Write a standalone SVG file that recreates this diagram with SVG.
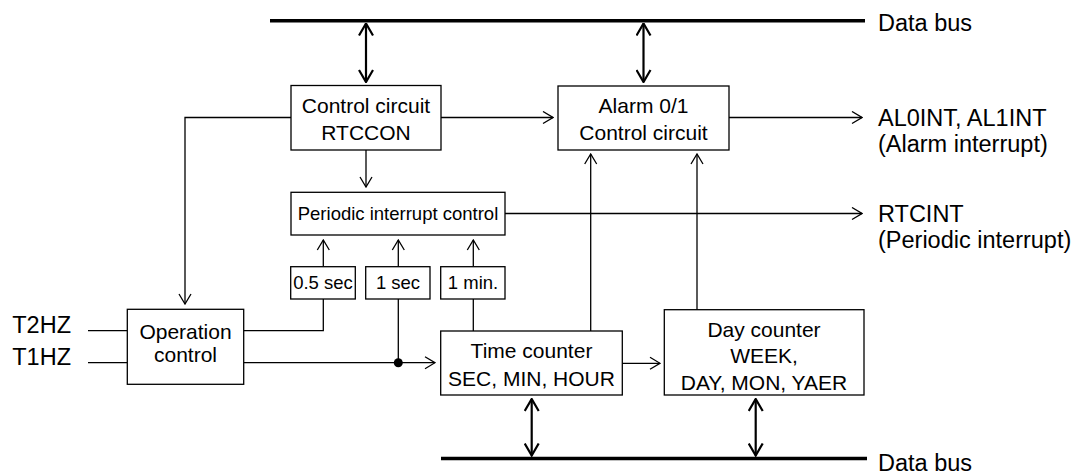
<svg xmlns="http://www.w3.org/2000/svg" width="1077" height="475" viewBox="0 0 1077 475">
<style>
text{font-family:"Liberation Sans",Arial,sans-serif;fill:#000}
.t{font-size:21px}
.o{font-size:23.5px}
.s{font-size:18.5px}
.c{text-anchor:middle}
.box{fill:#fff;stroke:#000;stroke-width:1.3}
.ln{fill:none;stroke:#000;stroke-width:1.3}
.bus{fill:none;stroke:#000;stroke-width:3.6}
.bi{fill:none;stroke:#000;stroke-width:2.2}
</style>
<defs>
<marker id="a" viewBox="0 0 12 14" refX="11" refY="7" markerWidth="12" markerHeight="14" markerUnits="userSpaceOnUse" orient="auto">
<path d="M1,1 L11,7 L1,13" fill="none" stroke="#000" stroke-width="1.3"/>
</marker>
<marker id="b" viewBox="0 0 14 16" refX="13" refY="8" markerWidth="14" markerHeight="16" markerUnits="userSpaceOnUse" orient="auto-start-reverse">
<path d="M1,1 L13,8 L1,15" fill="none" stroke="#000" stroke-width="2.2"/>
</marker>
</defs>

<g id="buses">
<line class="bus" x1="270" y1="20.7" x2="865" y2="20.7"/>
<line class="bus" x1="441" y1="458.5" x2="867" y2="458.5"/>
<text class="o" x="878" y="31">Data bus</text>
<text class="o" x="878" y="470.5">Data bus</text>
</g>

<g id="connectors">
<path class="ln" d="M441,117.5 H553" marker-end="url(#a)"/>
<path class="ln" d="M291,117.5 H185 V304" marker-end="url(#a)"/>
<path class="ln" d="M366,150 V187" marker-end="url(#a)"/>
<path class="ln" d="M729,117.5 H862" marker-end="url(#a)"/>
<path class="ln" d="M505,213.5 H862" marker-end="url(#a)"/>
<path class="ln" d="M323.3,266.7 V240" marker-end="url(#a)"/>
<path class="ln" d="M398.3,266.7 V240" marker-end="url(#a)"/>
<path class="ln" d="M473.3,266.7 V240" marker-end="url(#a)"/>
<path class="ln" d="M244,330.7 H323.3 V299"/>
<path class="ln" d="M244,362.7 H435" marker-end="url(#a)"/>
<path class="ln" d="M398.3,362.7 V299"/>
<circle cx="398.3" cy="362.7" r="4.5" fill="#000"/>
<path class="ln" d="M473.3,331 V299"/>
<path class="ln" d="M590.7,331 V154" marker-end="url(#a)"/>
<path class="ln" d="M697,310 V154" marker-end="url(#a)"/>
<path class="ln" d="M622,363.3 H660" marker-end="url(#a)"/>
<path class="ln" d="M88,330.7 H127"/>
<path class="ln" d="M88,362.7 H127"/>
<path class="bi" d="M366,23.5 V82" marker-start="url(#b)" marker-end="url(#b)"/>
<path class="bi" d="M643.5,23.5 V82" marker-start="url(#b)" marker-end="url(#b)"/>
<path class="bi" d="M531.7,399 V455.5" marker-start="url(#b)" marker-end="url(#b)"/>
<path class="bi" d="M755.7,399 V455.5" marker-start="url(#b)" marker-end="url(#b)"/>
</g>

<g id="control-circuit">
<rect class="box" x="291" y="85.5" width="150" height="64.5"/>
<text class="t c" x="366" y="113">Control circuit</text>
<text class="t c" x="366" y="139.5">RTCCON</text>
</g>

<g id="alarm-control">
<rect class="box" x="558" y="86" width="171" height="64"/>
<text class="t c" x="643.5" y="113">Alarm 0/1</text>
<text class="t c" x="643.5" y="139.5">Control circuit</text>
</g>

<g id="alarm-output">
<text class="o" x="878" y="125.5">AL0INT, AL1INT</text>
<text class="o" x="878" y="151.5">(Alarm interrupt)</text>
</g>

<g id="periodic-interrupt-control">
<rect class="box" x="291" y="192.3" width="214" height="42.7"/>
<text class="s c" x="398" y="220">Periodic interrupt control</text>
</g>

<g id="rtcint-output">
<text class="o" x="878" y="221.5">RTCINT</text>
<text class="o" x="878" y="248">(Periodic interrupt)</text>
</g>

<g id="half-second">
<rect class="box" x="290.7" y="266.7" width="64.6" height="32.3"/>
<text class="s c" x="323" y="288.5">0.5 sec</text>
</g>

<g id="one-second">
<rect class="box" x="365.7" y="266.7" width="64.3" height="32.3"/>
<text class="s c" x="398" y="288.5">1 sec</text>
</g>

<g id="one-minute">
<rect class="box" x="440.7" y="266.7" width="64.3" height="32.3"/>
<text class="s c" x="473" y="288.5">1 min.</text>
</g>

<g id="operation-control">
<rect class="box" x="127.3" y="309.3" width="116.4" height="75"/>
<text class="t c" x="185.5" y="338.5">Operation</text>
<text class="t c" x="185.5" y="362">control</text>
</g>

<g id="inputs">
<text class="o" x="71" y="333" text-anchor="end">T2HZ</text>
<text class="o" x="71" y="365" text-anchor="end">T1HZ</text>
</g>

<g id="time-counter">
<rect class="box" x="440.7" y="331" width="181.6" height="64"/>
<text class="t c" x="531.5" y="358.3">Time counter</text>
<text class="t c" x="531.5" y="385.7">SEC, MIN, HOUR</text>
</g>

<g id="day-counter">
<rect class="box" x="664.3" y="309.7" width="199.7" height="85.3"/>
<text class="t c" x="764" y="336.7">Day counter</text>
<text class="t c" x="764" y="362.7">WEEK,</text>
<text class="t c" x="764" y="390">DAY, MON, YAER</text>
</g>
</svg>
